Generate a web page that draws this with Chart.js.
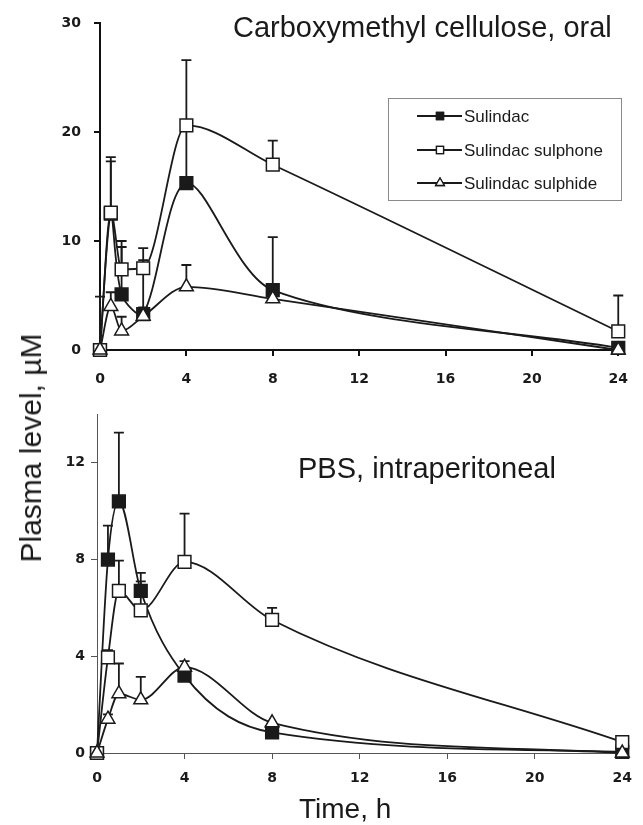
<!DOCTYPE html>
<html>
<head>
<meta charset="utf-8">
<script src="https://cdn.jsdelivr.net/npm/chart.js@4.4.1/dist/chart.umd.min.js"></script>
<style>
  html, body { margin: 0; padding: 0; background: #fff; }
  #wrap { position: relative; width: 643px; height: 825px; overflow: hidden; background: #fff; }
  canvas { position: absolute; left: 0; }
  .txt { position: absolute; font-family: "Liberation Sans", Arial, sans-serif; color: #1a1a1a; white-space: nowrap; line-height: 1; }
</style>
</head>
<body>
<div id="wrap">
  <canvas id="c1" width="643" height="400" style="top:0px"></canvas>
  <canvas id="c2" width="643" height="425" style="top:400px"></canvas>
  <div class="txt" id="t1" style="left:233px; top:13px; font-size:29px;">Carboxymethyl cellulose, oral</div>
  <div class="txt" id="t2" style="left:298px; top:454px; font-size:29px;">PBS, intraperitoneal</div>
  <div class="txt" id="xl" style="left:299px; top:795px; font-size:28px;">Time, h</div>
  <div class="txt" id="yl" style="left:31px; top:448px; font-size:30px; transform: translate(-50%,-50%) rotate(-90deg);">Plasma level, µM</div>
</div>
<script>
// ---------- data ----------
const times = [0, 0.5, 1, 2, 4, 8, 24];
const seriesNames = ['Sulindac', 'Sulindac sulphone', 'Sulindac sulphide'];

// Carboxymethyl cellulose, oral (µM)
const oralSulindac      = [0, 12.5, 5.1, 3.3, 15.3, 5.5, 0.2];
const oralSulindacErr   = [null, 17.3, 9.45, 8.25, 20.4, 10.35, null];
const oralSulphone      = [0, 12.6, 7.4, 7.5, 20.6, 17.0, 1.7];
const oralSulphoneErr   = [null, 17.7, 10.0, 9.35, 26.6, 19.2, 5.0];
const oralSulphide      = [0, 4.0, 1.75, 3.1, 5.8, 4.7, 0];
const oralSulphideErr   = [4.9, 5.3, 3.05, 3.9, 7.8, null, null];

// PBS, intraperitoneal (µM)
const ipSulindac        = [0, 8.0, 10.4, 6.7, 3.2, 0.85, 0.05];
const ipSulindacErr     = [null, 9.4, 13.25, 7.45, null, null, null];
const ipSulphone        = [0, 3.95, 6.7, 5.9, 7.9, 5.5, 0.45];
const ipSulphoneErr     = [null, 4.25, 7.95, 7.1, 9.9, 6.0, null];
const ipSulphide        = [0, 1.4, 2.45, 2.2, 3.55, 1.25, 0];
const ipSulphideErr     = [null, 1.6, 3.7, 3.15, 3.8, null, null];

const xTicks = [0, 4, 8, 12, 16, 20, 24];
const yTicksOral = [0, 10, 20, 30];
const yTicksIp = [0, 4, 8, 12];

// ---------- helpers ----------
const INK = '#1a1a1a';
const pts = arr => arr.map((v, i) => ({ x: times[i], y: v }));
const styles = [
  { pointStyle: 'rect', bg: INK, r: 9 },
  { pointStyle: 'rect', bg: '#ffffff', r: 9 },
  { pointStyle: 'triangle', bg: '#ffffff', r: 8 }
];
// curve smoothing per series: [mode, tension]
function makeDatasets(vals, errs, smooth) {
  return vals.map((v, k) => ({
    label: seriesNames[k],
    data: pts(v),
    errHi: errs[k],
    borderColor: INK,
    borderWidth: 1.8,
    backgroundColor: styles[k].bg,
    pointStyle: styles[k].pointStyle,
    pointRadius: styles[k].r,
    pointBorderWidth: 1.5,
    pointBorderColor: INK,
    pointBackgroundColor: styles[k].bg,
    cubicInterpolationMode: smooth[k][0],
    tension: smooth[k][1],
    fill: false,
    clip: false,
    order: 3 - k
  }));
}

const errorBars = {
  id: 'errorBars',
  beforeDatasetsDraw(chart) {
    const ctx = chart.ctx, xs = chart.scales.x, ys = chart.scales.y;
    ctx.save();
    ctx.strokeStyle = INK;
    ctx.lineWidth = 1.8;
    chart.data.datasets.forEach(ds => {
      if (!ds.errHi) return;
      ds.errHi.forEach((e, i) => {
        if (e == null) return;
        const x = xs.getPixelForValue(ds.data[i].x);
        const y0 = ys.getPixelForValue(ds.data[i].y);
        const y1 = ys.getPixelForValue(e);
        ctx.beginPath();
        ctx.moveTo(x, y0); ctx.lineTo(x, y1);
        ctx.moveTo(x - 5, y1); ctx.lineTo(x + 5, y1);
        ctx.stroke();
      });
    });
    ctx.restore();
  }
};

const boxLegend = {
  id: 'boxLegend',
  afterDraw(chart, args, opts) {
    if (!opts || !opts.show) return;
    const ctx = chart.ctx;
    ctx.save();
    ctx.strokeStyle = '#8a8a8a';
    ctx.lineWidth = 1;
    ctx.strokeRect(388.5, 98.5, 233, 102);
    const rows = [116, 150, 183];
    chart.data.datasets.forEach((ds, k) => {
      const y = rows[k];
      ctx.strokeStyle = INK; ctx.lineWidth = 1.8;
      ctx.beginPath(); ctx.moveTo(417, y); ctx.lineTo(462, y); ctx.stroke();
      ctx.lineWidth = 1.3;
      ctx.fillStyle = styles[k].bg;
      Chart.helpers.drawPoint(ctx, { pointStyle: styles[k].pointStyle, radius: 5, rotation: 0, borderWidth: 1.3 }, 440, y);
      ctx.fill(); ctx.stroke();
      ctx.fillStyle = INK;
      ctx.font = '17px "Liberation Sans", Arial, sans-serif';
      ctx.textBaseline = 'middle';
      ctx.textAlign = 'left';
      ctx.fillText(ds.label, 464, y + 1);
    });
    ctx.restore();
  }
};

function makeChart(id, ds, yTicks, ymax, geom) {
  return new Chart(document.getElementById(id), {
    type: 'line',
    data: { datasets: ds },
    options: {
      responsive: false,
      animation: false,
      devicePixelRatio: 1,
      layout: { padding: { top: geom.padTop, right: geom.padRight, left: 0, bottom: 0 } },
      plugins: {
        legend: { display: false },
        tooltip: { enabled: false },
        title: { display: false },
        boxLegend: { show: geom.legend }
      },
      scales: {
        x: {
          type: 'linear', min: 0, max: 24,
          afterBuildTicks: s => { s.ticks = xTicks.map(v => ({ value: v })); },
          afterFit: s => { s.height = geom.xh; },
          border: { display: true, color: geom.axisColor, width: geom.axisW },
          grid: { display: true, drawOnChartArea: false, drawTicks: true, tickLength: 6, color: geom.axisColor, lineWidth: geom.axisW },
          ticks: { color: INK, padding: geom.xPad, font: { family: '"DejaVu Sans"', size: 14, weight: 'bold' }, maxRotation: 0, autoSkip: false }
        },
        y: {
          type: 'linear', min: 0, max: ymax,
          afterBuildTicks: s => { s.ticks = yTicks.map(v => ({ value: v })); },
          afterFit: s => { s.width = geom.yw; },
          border: { display: true, color: geom.axisColor, width: geom.axisW },
          grid: { display: true, drawOnChartArea: false, drawTicks: true, tickLength: 6, color: geom.axisColor, lineWidth: geom.axisW },
          ticks: { color: INK, padding: geom.yPad, font: { family: '"DejaVu Sans"', size: 14, weight: 'bold' }, autoSkip: false }
        }
      }
    },
    plugins: [errorBars, boxLegend]
  });
}

makeChart('c1',
  makeDatasets([oralSulindac, oralSulphone, oralSulphide], [oralSulindacErr, oralSulphoneErr, oralSulphideErr],
    [['default', 0.3], ['monotone', 0.4], ['monotone', 0.4]]),
  yTicksOral, 30,
  { padTop: 23, padRight: 24, xh: 50, yw: 100, xPad: 15, yPad: 13, axisW: 2, axisColor: '#111', legend: true });

makeChart('c2',
  makeDatasets([ipSulindac, ipSulphone, ipSulphide], [ipSulindacErr, ipSulphoneErr, ipSulphideErr],
    [['monotone', 0.4], ['monotone', 0.4], ['monotone', 0.4]]),
  yTicksIp, 14,
  { padTop: 3, padRight: 12, xh: 72, yw: 97, xPad: 11, yPad: 6, axisW: 1, axisColor: '#555', legend: false });
</script>
</body>
</html>
